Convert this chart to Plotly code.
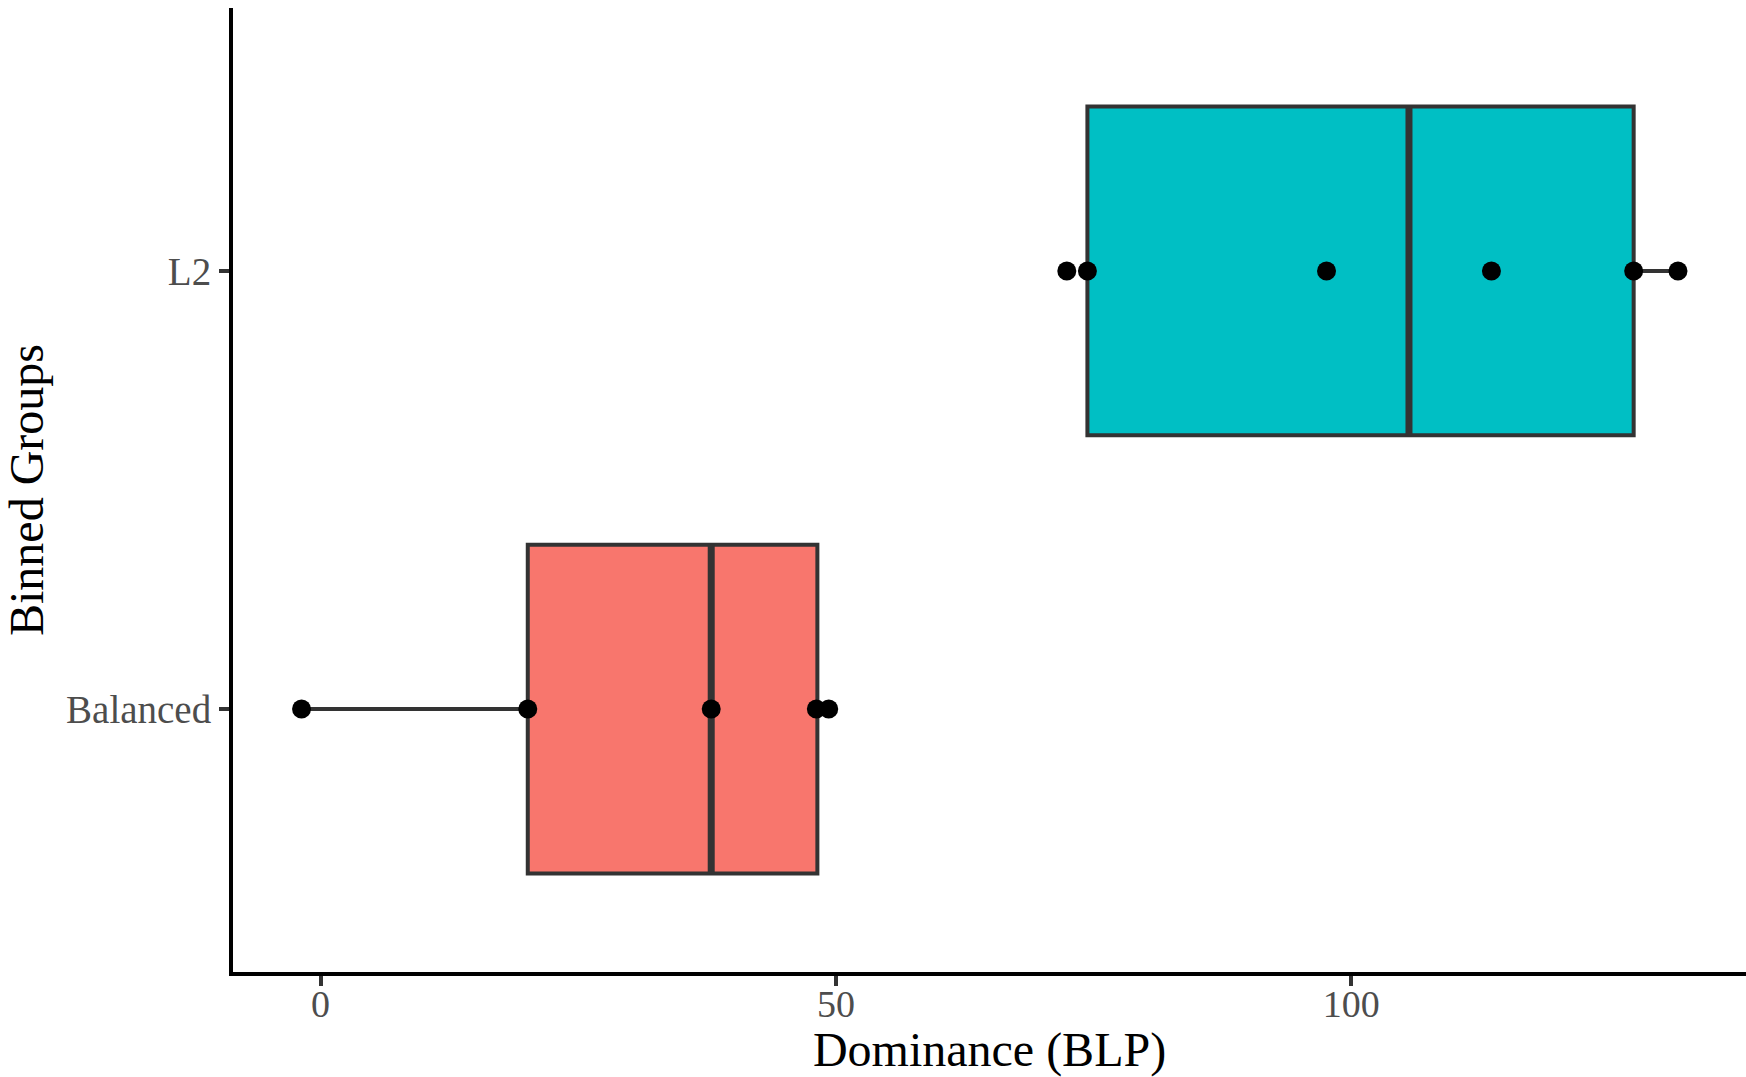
import plotly.graph_objects as go

# ---- data ----
groups = ["Balanced", "L2"]
group_pos = [1, 2]
fill_colors = ["#F8766D", "#00BFC4"]

# box statistics per group
q1_vals = [20.1, 74.4]
median_vals = [37.9, 105.6]
q3_vals = [48.2, 127.4]
lower_fence = [-1.85, 74.4]
upper_fence = [49.3, 131.7]

# individual observations
balanced_points = [-1.85, 20.1, 37.9, 48.1, 49.3]
l2_points = [72.4, 74.4, 97.6, 113.6, 127.4, 131.7]
points_by_group = [balanced_points, l2_points]

x_ticks = [0, 50, 100]
x_title = "Dominance (BLP)"
y_title = "Binned Groups"

# ---- styling ----
FONT = "Liberation Serif"
LINE = "#333333"
BOX_W = 0.75

fig = go.Figure()

for i, g in enumerate(groups):
    fig.add_trace(go.Box(
        y=[group_pos[i]], orientation="h",
        q1=[q1_vals[i]], median=[median_vals[i]], q3=[q3_vals[i]],
        lowerfence=[lower_fence[i]], upperfence=[upper_fence[i]],
        width=BOX_W, whiskerwidth=0,
        fillcolor=fill_colors[i],
        line=dict(color=LINE, width=4),
        boxpoints=False, name=g, showlegend=False, hoverinfo="skip",
    ))

# thicker median lines (ggplot fatten)
for i, g in enumerate(groups):
    fig.add_trace(go.Scatter(
        x=[median_vals[i], median_vals[i]],
        y=[group_pos[i] - BOX_W / 2, group_pos[i] + BOX_W / 2],
        mode="lines", line=dict(color=LINE, width=7),
        showlegend=False, hoverinfo="skip",
    ))

for i, g in enumerate(groups):
    pts = points_by_group[i]
    fig.add_trace(go.Scatter(
        x=pts, y=[group_pos[i]] * len(pts),
        mode="markers", marker=dict(color="black", size=19),
        showlegend=False, name=g,
    ))

fig.update_layout(
    width=1746, height=1077,
    margin=dict(l=233, r=0, t=8, b=105),
    paper_bgcolor="white", plot_bgcolor="white",
    font=dict(family=FONT, color="black"),
    showlegend=False,
)

fig.update_xaxes(
    range=[-8.5, 138.3], tickvals=x_ticks, ticktext=[str(v) for v in x_ticks],
    showgrid=False, zeroline=False,
    showline=True, linecolor="black", linewidth=4,
    ticks="outside", ticklen=10, tickwidth=4, tickcolor=LINE,
    ticklabelstandoff=-15,
    tickfont=dict(family=FONT, size=38, color="#4D4D4D"),
    title=dict(text=x_title, font=dict(family=FONT, size=48, color="black"), standoff=18),
)
fig.update_yaxes(
    range=[0.4, 2.6], tickvals=group_pos, ticktext=groups,
    showgrid=False, zeroline=False,
    showline=True, linecolor="black", linewidth=4,
    ticks="outside", ticklen=10, tickwidth=4, tickcolor=LINE,
    tickfont=dict(family=FONT, size=39, color="#4D4D4D"),
    title=dict(text=y_title, font=dict(family=FONT, size=48, color="black"), standoff=9),
)

fig.write_html("out.html")
